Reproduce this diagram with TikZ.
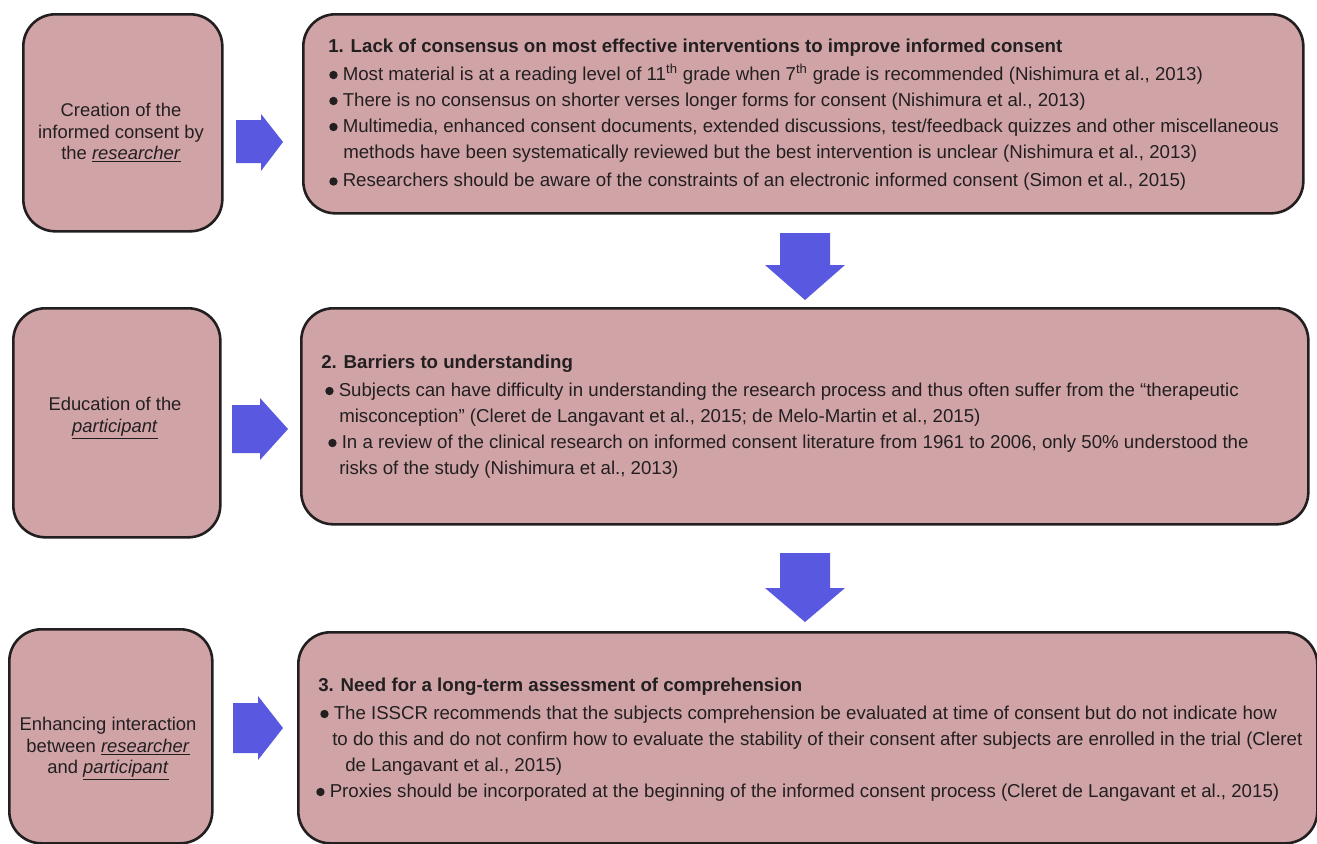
\documentclass[tikz,border=0pt]{standalone}
\usepackage{fontspec}
\setmainfont{Liberation Sans}
\usetikzlibrary{positioning}

\newdimen\px \px=0.75pt
\definecolor{boxfill}{HTML}{D0A4A6}
\definecolor{boxline}{HTML}{231F20}
\definecolor{arrowfill}{HTML}{5858E0}
\definecolor{txt}{HTML}{231F20}
\newcommand\bulletmark{\tikz[baseline=0pt]\fill[txt] (4.2\px,5.3\px) circle (4.2\px);}
\newcommand\itm[2][0]{\hspace*{#1\px}\makebox[13.5\px][l]{\bulletmark}#2}

\begin{document}
\begin{tikzpicture}[x=0.75pt, y=-0.75pt,
    box/.style={draw=boxline, line width=2.6\px, fill=boxfill, rounded corners=32\px, anchor=north west, inner sep=0pt},
    sidetext/.style={align=center, text=txt, font=\fontsize{13.8}{16.1}\selectfont, inner sep=0pt},
    maintext/.style={align=left, text=txt, font=\fontsize{14}{19.5}\selectfont, inner sep=0pt, anchor=north west},
    blockarrow/.style={fill=arrowfill}]
    \useasboundingbox (0,0) rectangle (1317,843);

    % left column
    \node[box, minimum width=199\px, minimum height=217\px] (creation) at (22,13) {};
    \node[box, minimum width=207\px, minimum height=229\px] (education) at (12,307) {};
    \node[box, minimum width=203\px, minimum height=214\px] (enhancing) at (8,628) {};

    \node[sidetext] (creationtxt) at (121,133) {Creation of the\\informed consent by\\the \underline{\textit{researcher}}};
    \node[sidetext] (educationtxt) at (115,418) {Education of the\\\underline{\textit{participant}}};
    \node[sidetext] (enhancingtxt) at (108,749) {Enhancing interaction\\between \underline{\textit{researcher}}\\and \underline{\textit{participant}}};

    % right column
    \node[box, minimum width=1000\px, minimum height=199\px] (lack) at (302,13) {};
    \node[box, minimum width=1007\px, minimum height=216\px] (barriers) at (300,307) {};
    \node[box, minimum width=1019\px, minimum height=211\px] (need) at (297,631) {};

    \node[maintext] (lacktxt) at (328,39) {%
        \textbf{1. Lack of consensus on most effective interventions to improve informed consent}\\[1.5\px]
        \itm[1]{Most material is at a reading level of 11\textsuperscript{th} grade when 7\textsuperscript{th} grade is recommended (Nishimura et al., 2013)}\\
        \itm[1]{There is no consensus on shorter verses longer forms for consent (Nishimura et al., 2013)}\\
        \itm[1]{Multimedia, enhanced consent documents, extended discussions, test/feedback quizzes and other miscellaneous}\\
        \hspace*{15\px}methods have been systematically reviewed but the best intervention is unclear (Nishimura et al., 2013)\\[2.5\px]
        \itm[1]{Researchers should be aware of the constraints of an electronic informed consent (Simon et al., 2015)}};

    \node[maintext] (barrierstxt) at (321,355) {%
        \textbf{2. Barriers to understanding}\\[1.5\px]
        \itm[4]{Subjects can have difficulty in understanding the research process and thus often suffer from the “therapeutic}\\
        \hspace*{18\px}misconception” (Cleret de Langavant et al., 2015; de Melo-Martin et al., 2015)\\
        \itm[7]{In a review of the clinical research on informed consent literature from 1961 to 2006, only 50\% understood the}\\
        \hspace*{18\px}risks of the study (Nishimura et al., 2013)};

    \node[maintext] (needtxt) at (316,678) {%
        \hspace*{2\px}\textbf{3. Need for a long-term assessment of comprehension}\\[1.5\px]
        \itm[4]{The ISSCR recommends that the subjects comprehension be evaluated at time of consent but do not indicate how}\\
        \hspace*{16\px}to do this and do not confirm how to evaluate the stability of their consent after subjects are enrolled in the trial (Cleret\\
        \hspace*{29\px}de Langavant et al., 2015)\\
        \itm{Proxies should be incorporated at the beginning of the informed consent process (Cleret de Langavant et al., 2015)}};

    % arrows
    \fill[blockarrow] (236,120) -- (261,120) -- (261,114) -- (283,142) -- (261,171) -- (261,163) -- (236,163) -- cycle;
    \fill[blockarrow] (232,405) -- (260,405) -- (260,398) -- (288,429) -- (260,460) -- (260,453) -- (232,453) -- cycle;
    \fill[blockarrow] (233,703) -- (258,703) -- (258,696) -- (283,728) -- (258,760) -- (258,753) -- (233,753) -- cycle;
    \fill[blockarrow] (780,233) -- (830,233) -- (830,265) -- (845,265) -- (805,300) -- (765,265) -- (780,265) -- cycle;
    \fill[blockarrow] (780,553) -- (830,553) -- (830,588) -- (845,588) -- (805,622) -- (765,588) -- (780,588) -- cycle;
\end{tikzpicture}
\end{document}
